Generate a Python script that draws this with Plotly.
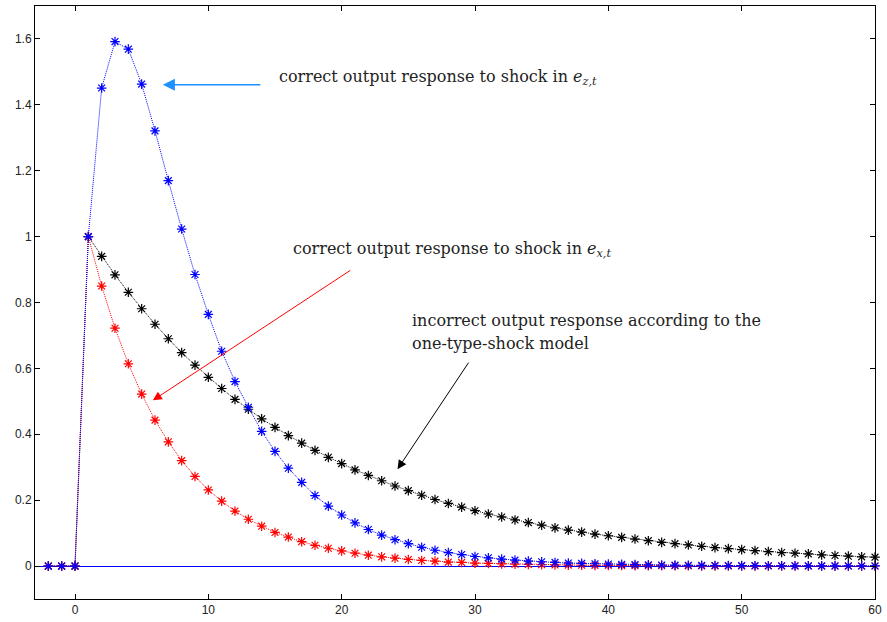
import plotly.graph_objects as go

t = list(range(-2, 61))

black = [0, 0, 0,
         1.000, 0.940, 0.884, 0.831, 0.781, 0.734, 0.690, 0.648, 0.610, 0.573,
         0.539, 0.506, 0.476, 0.447, 0.421, 0.396, 0.373, 0.351, 0.330, 0.311,
         0.292, 0.275, 0.259, 0.243, 0.229, 0.215, 0.202, 0.190, 0.179, 0.168,
         0.158, 0.149, 0.140, 0.132, 0.124, 0.116, 0.109, 0.103, 0.097, 0.092,
         0.087, 0.082, 0.077, 0.072, 0.068, 0.064, 0.060, 0.056, 0.053, 0.050,
         0.047, 0.044, 0.041, 0.039, 0.037, 0.034, 0.032, 0.030, 0.028, 0.027]

red = [0, 0, 0,
       1.000, 0.850, 0.722, 0.614, 0.522, 0.443, 0.377, 0.320, 0.272, 0.231,
       0.197, 0.167, 0.142, 0.121, 0.102, 0.088, 0.074, 0.063, 0.054, 0.046,
       0.039, 0.033, 0.028, 0.024, 0.020, 0.017, 0.015, 0.012, 0.011, 0.009,
       0.008, 0.0065, 0.0055, 0.0047, 0.004, 0.0034, 0.0029, 0.0025, 0.0021, 0.0018,
       0.0015, 0.0013, 0.0011, 0.001, 0.0008, 0.0007, 0.0006, 0.0005, 0.0004, 0.0004,
       0.0003, 0.0003, 0.0002, 0.0002, 0.0002, 0.0002, 0.0001, 0.0001, 0.0001, 0.0001]

blue = [0, 0, 0,
        1.000, 1.451, 1.592, 1.569, 1.463, 1.321, 1.170, 1.023, 0.885, 0.764,
        0.652, 0.560, 0.482, 0.409, 0.348, 0.297, 0.254, 0.214, 0.182, 0.155,
        0.131, 0.111, 0.094, 0.080, 0.068, 0.057, 0.048, 0.041, 0.035, 0.029,
        0.025, 0.021, 0.018, 0.015, 0.013, 0.011, 0.009, 0.008, 0.007, 0.006,
        0.005, 0.0043, 0.0037, 0.0032, 0.0027, 0.0023, 0.002, 0.0017, 0.0015, 0.0013,
        0.0011, 0.0009, 0.0008, 0.0007, 0.0006, 0.0005, 0.0004, 0.0004, 0.0003, 0.0003]

x_ticks = [0, 10, 20, 30, 40, 50, 60]
y_ticks = [0, 0.2, 0.4, 0.6, 0.8, 1, 1.2, 1.4, 1.6]

fig = go.Figure()

def add_series(y, color):
    fig.add_trace(go.Scatter(
        x=t, y=y, mode="lines+markers", cliponaxis=False,
        line=dict(color=color, width=1, dash="1px,1px"),
        marker=dict(symbol="asterisk-open", size=8,
                    line=dict(color=color, width=1.2)),
        showlegend=False, hoverinfo="skip"))

add_series(black, "black")
add_series(red, "red")
add_series(blue, "blue")

serif = "DejaVu Serif"
lab_font = dict(family=serif, size=16, color="#222")

# Arrows
fig.add_annotation(x=6.59, y=1.461, ax=99, ay=0, xref="x", yref="y",
                   showarrow=True, arrowhead=2, arrowsize=1.6, arrowwidth=1.5,
                   arrowcolor="rgb(30,144,255)", text="")
fig.add_annotation(x=5.84, y=0.503, ax=199, ay=-131, xref="x", yref="y",
                   showarrow=True, arrowhead=2, arrowsize=1.8, arrowwidth=1,
                   arrowcolor="red", text="")
fig.add_annotation(x=24.19, y=0.294, ax=72, ay=-108, xref="x", yref="y",
                   showarrow=True, arrowhead=2, arrowsize=1.8, arrowwidth=1,
                   arrowcolor="black", text="")

# Labels
fig.add_annotation(x=15.13, y=1.482, xref="x", yref="y", xanchor="left",
                   yanchor="middle", showarrow=False, font=lab_font,
                   text="correct output response to shock in <i>e</i><sub><i>z,t</i></sub>")
fig.add_annotation(x=16.18, y=0.961, xref="x", yref="y", xanchor="left",
                   yanchor="middle", showarrow=False, font=lab_font,
                   text="correct output response to shock in <i>e</i><sub><i>x,t</i></sub>")
fig.add_annotation(x=25.09, y=0.744, xref="x", yref="y", xanchor="left",
                   yanchor="middle", showarrow=False, font=lab_font,
                   text="incorrect output response according to the")
fig.add_annotation(x=25.09, y=0.677, xref="x", yref="y", xanchor="left",
                   yanchor="middle", showarrow=False, font=lab_font,
                   text="one-type-shock model")

axis_common = dict(showline=True, linecolor="black", linewidth=1, mirror="ticks",
                   ticks="inside", ticklen=5, tickcolor="black", showgrid=False,
                   tickfont=dict(family="Liberation Sans", size=12, color="#222"))

fig.update_xaxes(range=[-3, 60], tickvals=x_ticks, zeroline=False, **axis_common)
fig.update_yaxes(range=[-0.1, 1.7], tickvals=y_ticks, zeroline=True,
                 zerolinecolor="blue", zerolinewidth=1, **axis_common)

fig.update_layout(width=887, height=622, plot_bgcolor="white", paper_bgcolor="white",
                  margin=dict(l=35, r=9, t=5, b=22))

fig.write_html("out.html")
